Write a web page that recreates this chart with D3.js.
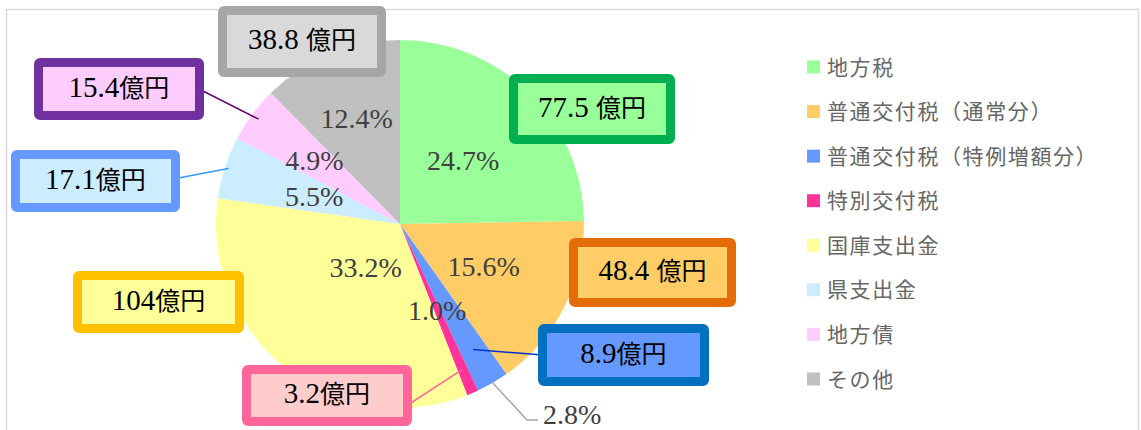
<!DOCTYPE html>
<html>
<head>
<meta charset="utf-8">
<script src="https://cdn.jsdelivr.net/npm/d3@7"></script>
<style>
  html, body { margin: 0; padding: 0; background: #fff; }
  svg { display: block; }
  .serif { font-family: "Liberation Serif", "DejaVu Serif", serif; }
  .cjk { font-family: "Noto Sans CJK JP", sans-serif; }
</style>
</head>
<body>
<svg id="chart" width="1141" height="430"></svg>
<script>
// ---- data ----
const categories = ["地方税", "普通交付税（通常分）", "普通交付税（特例増額分）", "特別交付税", "国庫支出金", "県支出金", "地方債", "その他"];
const values = [77.5, 48.4, 8.9, 3.2, 104, 17.1, 15.4, 38.8];
const pctLabels = ["24.7%", "15.6%", "2.8%", "1.0%", "33.2%", "5.5%", "4.9%", "12.4%"];
const amountLabels = ["77.5 ", "48.4 ", "8.9", "3.2", "104", "17.1", "15.4", "38.8 "];
const unitLabel = "億円";

// ---- style / layout ----
const colors = ["#99FF99", "#FFCC66", "#6699FF", "#FF3399", "#FFFF99", "#CCECFF", "#FFCCFF", "#C0C0C0"];
const boxFill = ["#99FF99", "#FFCC66", "#6699FF", "#FFCCCC", "#FFFF99", "#CCECFF", "#FFCCFF", "#D9D9D9"];
const boxStroke = ["#00B050", "#E36C09", "#0070C0", "#FF6699", "#FFC000", "#6699FF", "#7030A0", "#A6A6A6"];
const leaderColor = [null, null, "#0033CC", "#FF6699", null, "#3399FF", "#660066", null];
// box layout: center x, center y, width, height (outer)
const boxLayout = [
  [592, 109, 166, 70],
  [652.5, 272.5, 167, 69],
  [623.5, 355, 171, 62],
  [327, 395.5, 170, 61],
  [158.5, 302, 171, 62],
  [95.5, 181, 169, 62],
  [119, 89, 170, 62],
  [302, 41.5, 168, 71]
];
const leaderInnerK = [null, null, 0.79, 0.86, null, 0.98, 0.957, null];
const pctK = [0.49, 0.51, null, 0.51, 0.30, 0.49, 0.58, 0.62];

const svg = d3.select("#chart");
const cx = 400, cy = 224, R = 184;

// frame
svg.append("rect").attr("x", 6.5).attr("y", 9.5).attr("width", 1132).attr("height", 440)
  .attr("fill", "none").attr("stroke", "#D9D9D9").attr("stroke-width", 1.5);

const pie = d3.pie().sort(null).value(d => d).startAngle(0).endAngle(2 * Math.PI);
const arcs = pie(values);
const arc = d3.arc().innerRadius(0).outerRadius(R);

const g = svg.append("g").attr("transform", `translate(${cx},${cy})`);
g.selectAll("path.slice").data(arcs).enter().append("path")
  .attr("class", "slice")
  .attr("d", arc)
  .attr("fill", (d, i) => colors[i]);

const pctSize = 28;
// percent labels
arcs.forEach((d, i) => {
  if (pctK[i] == null) return;
  const a = d3.arc().innerRadius(R * pctK[i]).outerRadius(R * pctK[i]);
  const [x, y] = a.centroid(d);
  g.append("text").attr("class", "serif").attr("x", x).attr("y", y).attr("dy", "0.35em")
    .attr("text-anchor", "middle")
    .attr("font-size", pctSize).attr("fill", "#404040")
    .text(pctLabels[i]);
});

// 2.8% outside label with leader
{
  const d = arcs[2];
  const a = d3.arc().innerRadius(R * 0.995).outerRadius(R * 0.995);
  const [x0, y0] = a.centroid(d);
  const p0 = [cx + x0, cy + y0];
  const p1 = [527, 420], p2 = [538, 420];
  svg.append("path").attr("d", d3.line()([p0, p1, p2]))
    .attr("fill", "none").attr("stroke", "#A6A6A6").attr("stroke-width", 1.5);
  svg.append("text").attr("class", "serif").attr("x", 543).attr("y", 424)
    .attr("font-size", pctSize).attr("fill", "#404040")
    .text(pctLabels[2]);
}

// leader lines for boxes
arcs.forEach((d, i) => {
  if (leaderInnerK[i] == null) return;
  const a = d3.arc().innerRadius(R * leaderInnerK[i]).outerRadius(R * leaderInnerK[i]);
  const [x, y] = a.centroid(d);
  const p0 = [cx + x, cy + y];
  const [bx, by, bw, bh] = boxLayout[i];
  let p1;
  if (i === 6) p1 = [bx + bw / 2 - 5, by];
  else if (i === 5) p1 = [bx + bw / 2 - 7, by - 2];
  else if (i === 2) p1 = [bx - bw / 2 + 5, by];
  else if (i === 3) p1 = [bx + bw / 2 - 2, by + 8];
  svg.append("line").attr("x1", p0[0]).attr("y1", p0[1]).attr("x2", p1[0]).attr("y2", p1[1])
    .attr("stroke", leaderColor[i]).attr("stroke-width", 1.5);
});

// money boxes
const sw = 9;
arcs.forEach((d, i) => {
  const [bx, by, bw, bh] = boxLayout[i];
  svg.append("rect")
    .attr("x", bx - bw / 2 + sw / 2).attr("y", by - bh / 2 + sw / 2)
    .attr("width", bw - sw).attr("height", bh - sw)
    .attr("rx", 1.5)
    .attr("fill", boxFill[i]).attr("stroke", boxStroke[i]).attr("stroke-width", sw)
    .attr("stroke-linejoin", "round");
  const t = svg.append("text").attr("x", bx).attr("y", by + 2).attr("dy", "0.36em")
    .attr("text-anchor", "middle").attr("fill", "#000");
  t.append("tspan").attr("class", "serif").attr("font-size", 29).text(amountLabels[i]);
  t.append("tspan").attr("class", "cjk").attr("font-size", 25).text(unitLabel);
});

// legend
const legendY = d3.scalePoint().domain(categories).range([67, 379]);
const lg = svg.append("g");
categories.forEach((c, i) => {
  const y = legendY(c);
  lg.append("rect").attr("x", 807).attr("y", y - 6.5).attr("width", 13).attr("height", 13).attr("fill", colors[i]);
  lg.append("text").attr("class", "cjk").attr("x", 827).attr("y", y).attr("dy", "0.36em")
    .attr("font-size", 21)
    .attr("letter-spacing", 1.6)
    .attr("fill", "#666666").text(c);
});
</script>
</body>
</html>
